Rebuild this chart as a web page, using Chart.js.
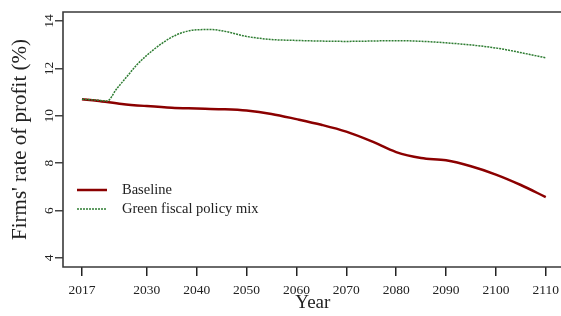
<!DOCTYPE html>
<html>
<head>
<meta charset="utf-8">
<script src="https://cdn.jsdelivr.net/npm/chart.js@4"></script>
<style>
	html, body { margin: 0; padding: 0; background: #fff; overflow: hidden; }
	#wrap { width: 561px; height: 316px; overflow: hidden; }
</style>
</head>
<body>
<div id="wrap"><canvas id="chart" width="565" height="316"></canvas></div>
<script>
	var baselineYears = [2017, 2020, 2025, 2030, 2035, 2040, 2045, 2050, 2055, 2060, 2065, 2070, 2075, 2080, 2085, 2090, 2095, 2100, 2105, 2110];
	var baselineValues = [10.70, 10.64, 10.50, 10.41, 10.34, 10.31, 10.28, 10.22, 10.08, 9.86, 9.62, 9.33, 8.93, 8.47, 8.22, 8.12, 7.87, 7.52, 7.08, 6.57];

	var greenYears = [2017, 2020, 2022, 2024, 2026, 2028, 2030, 2033, 2036, 2040, 2043, 2046, 2050, 2055, 2060, 2070, 2080, 2090, 2100, 2110];
	var greenValues = [10.70, 10.66, 10.62, 11.15, 11.65, 12.15, 12.55, 13.05, 13.42, 13.63, 13.64, 13.55, 13.35, 13.22, 13.18, 13.14, 13.17, 13.08, 12.86, 12.45];

	var xTicks = [2017, 2030, 2040, 2050, 2060, 2070, 2080, 2090, 2100, 2110];
	var yTicks = [4, 6, 8, 10, 12, 14];

	var seriesNames = ['Baseline', 'Green fiscal policy mix'];
	var yTitle = "Firms' rate of profit (%)";
	var xTitle = 'Year';

	var serif = "'Liberation Serif', 'DejaVu Serif', serif";

	function toPoints(years, values) {
		return years.map(function(y, i) {
			return { x: y, y: values[i] };
		});
	}

	// frame, rotated y labels and the legend are drawn by hand like in base R
	var extras = {
		id: 'extras',
		afterDraw: function(chart) {
			var ctx = chart.ctx;
			var area = chart.chartArea;
			var yScale = chart.scales.y;

			ctx.save();
			ctx.strokeStyle = '#3a3a3a';
			ctx.lineWidth = 1.6;
			ctx.beginPath();
			ctx.moveTo(chart.width + 10, area.top);
			ctx.lineTo(area.left, area.top);
			ctx.lineTo(area.left, area.bottom);
			ctx.lineTo(chart.width + 10, area.bottom);
			ctx.stroke();

			ctx.fillStyle = '#222';
			ctx.font = '13.5px ' + serif;
			ctx.textAlign = 'center';
			ctx.textBaseline = 'middle';
			yTicks.forEach(function(v) {
				var py = yScale.getPixelForValue(v);
				ctx.save();
				ctx.translate(49.5, py);
				ctx.rotate(-Math.PI / 2);
				ctx.fillText(String(v), 0, 0);
				ctx.restore();
			});

			var metas = chart.data.datasets;
			var rows = [190, 209];
			ctx.font = '14.5px ' + serif;
			ctx.textAlign = 'left';
			for (var i = 0; i < metas.length; i++) {
				var ds = metas[i];
				ctx.beginPath();
				ctx.strokeStyle = ds.borderColor;
				ctx.lineWidth = ds.borderWidth;
				ctx.setLineDash(ds.borderDash || []);
				ctx.moveTo(77, rows[i]);
				ctx.lineTo(107, rows[i]);
				ctx.stroke();
				ctx.setLineDash([]);
				ctx.fillStyle = '#222';
				ctx.fillText(ds.label, 122, rows[i]);
			}
			ctx.restore();
		}
	};

	new Chart(document.getElementById('chart'), {
		type: 'line',
		data: {
			datasets: [{
				label: seriesNames[0],
				data: toPoints(baselineYears, baselineValues),
				borderColor: '#8b0000',
				borderWidth: 2.5,
				pointRadius: 0,
				cubicInterpolationMode: 'monotone',
				fill: false,
				order: 1
			}, {
				label: seriesNames[1],
				data: toPoints(greenYears, greenValues),
				borderColor: '#2e7d32',
				borderWidth: 1.5,
				borderDash: [2, 1],
				pointRadius: 0,
				cubicInterpolationMode: 'monotone',
				fill: false,
				order: 0
			}]
		},
		options: {
			responsive: false,
			animation: false,
			layout: { padding: { top: 12, right: 0, bottom: 0, left: 0 } },
			plugins: {
				legend: { display: false },
				tooltip: { enabled: false }
			},
			scales: {
				x: {
					type: 'linear',
					min: 2013.2,
					max: 2113.4,
					afterBuildTicks: function(scale) {
						scale.ticks = xTicks.map(function(v) { return { value: v }; });
					},
					afterFit: function(scale) { scale.height = 49; },
					grid: {
						drawOnChartArea: false,
						drawTicks: true,
						tickLength: 9,
						color: '#222',
						lineWidth: 1.5
					},
					border: { display: false },
					ticks: {
						color: '#222',
						font: { family: serif, size: 13.5 },
						padding: 6,
						maxRotation: 0,
						autoSkip: false,
						callback: function(v) { return String(v); }
					},
					title: {
						display: true,
						text: xTitle,
						color: '#222',
						font: { family: serif, size: 19 },
						padding: { top: 0, bottom: 2 }
					}
				},
				y: {
					min: 3.62,
					max: 14.38,
					afterBuildTicks: function(scale) {
						scale.ticks = yTicks.map(function(v) { return { value: v }; });
					},
					afterFit: function(scale) { scale.width = 63; },
					grid: {
						drawOnChartArea: false,
						drawTicks: true,
						tickLength: 8,
						color: '#444',
						lineWidth: 1.5
					},
					border: { display: false },
					ticks: {
						color: 'rgba(0,0,0,0)',
						font: { family: serif, size: 13.5 }
					},
					title: {
						display: true,
						text: yTitle,
						color: '#222',
						font: { family: serif, size: 21 },
						padding: { top: 8, bottom: 0 }
					}
				}
			}
		},
		plugins: [extras]
	});
</script>
</body>
</html>
